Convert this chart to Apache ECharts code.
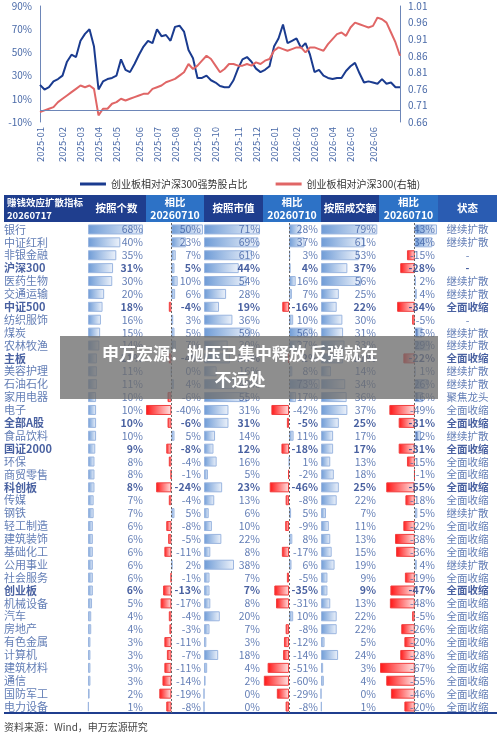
<!DOCTYPE html>
<html><head><meta charset="utf-8">
<script src="https://cdn.jsdelivr.net/npm/echarts@6/dist/echarts.min.js"></script>
<style>html,body{margin:0;padding:0;background:#fff}#c{width:500px;height:735px}</style>
</head><body><div id="c"></div>
<script>
// ---- line chart data (weekly) ----
const strongShare = [22,18,20,25,27, 30,42,48,46, 60,66,70,55, 18,25,27,28, 30,44,35,33,40, 48,55,60,58, 70,64,65,60, 72,73,68,52,45, 28,28,30,26, 24,21,20,20,26, 36,44,46,42, 36,33,35,38, 55,62,74,58,60, 62,54,58,48, 33,35,30,28, 27,28,28,34, 38,41,32,24,25, 24,23,27,23, 24,20,20];
const relative = [0.69,0.695,0.70,0.705,0.72, 0.73,0.74,0.75,0.76, 0.77,0.765,0.77,0.76, 0.68,0.70,0.70,0.715, 0.72,0.73,0.725,0.73,0.735, 0.74,0.745,0.745,0.76, 0.765,0.77,0.78,0.785, 0.79,0.80,0.81,0.835,0.82, 0.83,0.845,0.86,0.85, 0.83,0.81,0.82,0.835,0.835, 0.83,0.83,0.835,0.83, 0.84,0.835,0.845,0.85, 0.875,0.885,0.88,0.875,0.88, 0.885,0.885,0.87,0.885, 0.885,0.88,0.875,0.895, 0.91,0.925,0.93,0.92, 0.945,0.96,0.955,0.95,0.945, 0.95,0.975,0.97,0.96, 0.93,0.90,0.86];
const seriesNames = ['创业板相对沪深300强势股占比','创业板相对沪深300(右轴)'];
// ---- table data ----
const names = ['银行','中证红利','非银金融','沪深300','医药生物','交通运输','中证500','纺织服饰','煤炭','农林牧渔','主板','美容护理','石油石化','家用电器','电子','全部A股','食品饮料','国证2000','环保','商贸零售','科创板','传媒','钢铁','轻工制造','建筑装饰','基础化工','公用事业','社会服务','创业板','机械设备','汽车','房地产','有色金属','计算机','建筑材料','通信','国防军工','电力设备'];
const boldRows = ['沪深300','中证500','主板','全部A股','国证2000','科创板','创业板'];
const byCount = [68,40,35,31,30,20,18,16,15,14,11,11,11,10,10,10,10,9,8,8,8,7,7,6,6,6,6,6,6,5,4,4,3,3,3,3,2,1];
const byCountChg = [50,23,7,5,10,6,-4,3,5,7,-4,0,4,-6,-40,-6,5,-8,-4,-1,-24,-4,5,-8,-5,-11,2,-1,-13,-17,-4,-3,-11,-7,-11,-14,-19,-8];
const byCap = [71,69,61,44,54,28,19,36,59,30,33,16,40,55,31,31,14,12,16,5,23,13,6,10,22,8,38,7,7,8,20,7,3,18,4,2,0,0];
const byCapChg = [28,37,3,4,16,7,-16,10,56,27,-2,8,73,17,-42,-5,11,-18,1,-2,-46,-8,5,-9,8,-17,6,-5,-35,-31,10,-8,-12,-14,-51,-60,-29,-8];
const byTurnover = [79,61,53,37,56,25,22,30,31,33,31,14,34,36,37,25,17,17,13,18,25,22,7,11,13,15,19,9,9,13,22,22,5,24,3,4,0,1];
const byTurnoverChg = [43,34,-15,-28,2,4,-34,-5,15,29,-22,1,26,16,-49,-31,12,-31,-15,-1,-55,-18,5,-22,-38,-36,4,-19,-47,-48,-5,-26,-20,-28,-67,-55,-46,-20];
const status = ['继续扩散','继续扩散','-','-','继续扩散','继续扩散','全面收缩','-','继续扩散','继续扩散','全面收缩','继续扩散','继续扩散','聚焦龙头','全面收缩','全面收缩','继续扩散','全面收缩','全面收缩','全面收缩','全面收缩','全面收缩','继续扩散','全面收缩','全面收缩','全面收缩','继续扩散','全面收缩','全面收缩','全面收缩','全面收缩','全面收缩','全面收缩','全面收缩','全面收缩','全面收缩','全面收缩','全面收缩'];
const headers = ['赚钱效应扩散指标\n20260717','按照个数','相比\n20260710','按照市值','相比\n20260710','按照成交额','相比\n20260710','状态'];

// weekly Friday dates
const dates = [];
{ let d = new Date(Date.UTC(2025,0,3)); for (let i=0;i<strongShare.length;i++){ dates.push(d.toISOString().slice(0,10)); d = new Date(d.getTime()+7*864e5);} }

const F = '"Noto Sans CJK SC","Noto Sans",sans-serif';
const TXT = '#3b5ca3', BOLD = '#1b3a8a';
const chart = echarts.init(document.getElementById('c'));

const TOP = 223, BOT = 735-713;
const cols = [
  [88,57,0,70.5,byCount,false],
  [146,57,-40,50,byCountChg,true],
  [204,58,0,73.5,byCap,false],
  [263,57,-62,74,byCapChg,true],
  [321,57,0,80,byTurnover,false],
  [379,58,-69,43,byTurnoverChg,true]
];
const grids = [{left:40,right:100,top:6,bottom:613}];
const xAxes = [{type:'category',data:dates,gridIndex:0,boundaryGap:false,axisLine:{show:false},axisTick:{show:false},
  axisLabel:{rotate:90,fontSize:9.5,color:'#4a6aa8',fontFamily:F,margin:5,
    interval:(i)=> dates[i] < '2026-07' && (i===0 || dates[i].slice(5,7)!==dates[i-1].slice(5,7)),
    formatter:v=>v.slice(0,7)}}];
const yAxes = [
  {type:'value',gridIndex:0,min:-10,max:90,interval:20,splitLine:{show:false},axisLine:{show:true,lineStyle:{color:'#6d86b8'}},axisTick:{show:false},axisLabel:{formatter:'{value}%',fontSize:10,color:'#4a6aa8',fontFamily:F}},
  {type:'value',gridIndex:0,position:'right',min:0.66,max:1.01,interval:0.05,splitLine:{show:false},axisLine:{show:true,lineStyle:{color:'#6d86b8'}},axisTick:{show:false},axisLabel:{formatter:v=>v.toFixed(2),fontSize:10,color:'#4a6aa8',fontFamily:F}}
];
const series = [
  {name:seriesNames[0],type:'line',xAxisIndex:0,yAxisIndex:0,data:strongShare,symbol:'none',lineStyle:{color:'#1a3b8f',width:2},itemStyle:{color:'#1a3b8f'},
   markLine:{silent:true,symbol:'none',label:{show:false},lineStyle:{color:'#6d86b8',type:'solid',width:1},data:[{yAxis:0}]}},
  {name:seriesNames[1],type:'line',xAxisIndex:0,yAxisIndex:1,data:relative,symbol:'none',lineStyle:{color:'#e06666',width:2},itemStyle:{color:'#e06666'}}
];
const rowIdx = names.map((_,i)=>i);
function addGrid(left,width,min,max){
  grids.push({left:left,width:width,top:TOP,bottom:BOT});
  const gi = grids.length-1;
  xAxes.push({type:'value',gridIndex:gi,min:min,max:max,show:false});
  yAxes.push({type:'category',gridIndex:gi,data:rowIdx,inverse:true,show:false});
  return gi;
}
function lbl(i){ const b = boldRows.includes(names[i]); return {fontWeight:b?'bold':'normal',color:b?BOLD:TXT}; }
const blueG = new echarts.graphic.LinearGradient(0,0,1,0,[{offset:0,color:'#6e9bd6'},{offset:1,color:'#eef3fb'}]);
const redG = new echarts.graphic.LinearGradient(0,0,1,0,[{offset:0,color:'#ff1414'},{offset:1,color:'#ffe4e4'}]);
{ const gi = addGrid(4,82,0,1);
  series.push({type:'scatter',xAxisIndex:gi,symbolSize:0,data:names.map((n,i)=>({value:[0,i],label:lbl(i)})),
    label:{show:true,position:'right',distance:0,fontSize:11,fontFamily:F,formatter:p=>names[p.value[1]]}}); }
cols.forEach(([l,w,mn,mx,arr,signed])=>{
  const gi = addGrid(l,w,mn,mx);
  series.push({type:'bar',xAxisIndex:gi,barWidth:10,
    data:arr.map(v=>({value:v,itemStyle:{color: v<0?redG:blueG, borderColor: v<0?'#f04040':'#9bb6e0',borderWidth:1}})),
    markLine: signed?{silent:true,symbol:'none',label:{show:false},lineStyle:{color:'#666',type:[2,2],width:1},data:[{xAxis:0}]}:undefined});
  series.push({type:'scatter',xAxisIndex:gi,symbolSize:0,data:arr.map((v,i)=>({value:[mx,i],label:lbl(i)})),
    label:{show:true,position:'left',distance:2,fontSize:10.5,fontFamily:F,formatter:p=>arr[p.value[1]]+'%'}});
});
{ const gi = addGrid(438,59,0,1);
  series.push({type:'scatter',xAxisIndex:gi,symbolSize:0,data:status.map((s,i)=>({value:[0.5,i],label:{fontWeight:boldRows.includes(names[i])?'bold':'normal',color:boldRows.includes(names[i])?BOLD:TXT}})),
    label:{show:true,position:'inside',fontSize:10.5,fontFamily:F,formatter:p=>status[p.value[1]]}}); }
series.forEach(s=>{ if(s.xAxisIndex>0) s.yAxisIndex = s.xAxisIndex+1; });

const hdrX = [4,87,146,204,263,321,379,438,497];
const hdrC = ['#1f3e8e','#1f3e8e','#2d72c6','#1f3e8e','#2d72c6','#1f3e8e','#2d72c6','#2a5cb2'];
const graphic = [];
headers.forEach((h,i)=>{
  graphic.push({type:'rect',shape:{x:hdrX[i],y:195,width:hdrX[i+1]-hdrX[i],height:27},style:{fill:hdrC[i]}});
  graphic.push({type:'text',x:i===0?hdrX[i]+3:(hdrX[i]+hdrX[i+1])/2,y:208.5,style:{text:h,fill:'#fff',font:(i===0?'bold 9.5px ':'bold 10.5px ')+F,align:i===0?'left':'center',verticalAlign:'middle',lineHeight:13}});
});
graphic.push({type:'rect',shape:{x:4,y:712,width:493,height:2},style:{fill:'#1f3e8e'}});
graphic.push({type:'text',x:4,y:727,style:{text:'资料来源：Wind，申万宏源研究',fill:'#444',font:'10px '+F,verticalAlign:'middle'}});
graphic.push({type:'rect',z:100,shape:{x:60,y:336,width:378,height:63},style:{fill:'rgba(110,110,110,0.78)'}});
graphic.push({type:'text',z:101,x:240,y:367,style:{text:'申万宏源：抛压已集中释放 反弹就在\n不远处',fill:'#fff',font:'bold 17px '+F,align:'center',verticalAlign:'middle',lineHeight:26}});

chart.setOption({
  animation:false,
  textStyle:{fontFamily:F},
  legend:{data:seriesNames,top:174,left:'center',icon:'rect',itemWidth:26,itemHeight:3,itemGap:28,textStyle:{fontSize:10,color:'#333',fontFamily:F}},
  grid:grids,xAxis:xAxes,yAxis:yAxes,series:series,graphic:graphic
});
</script></body></html>
